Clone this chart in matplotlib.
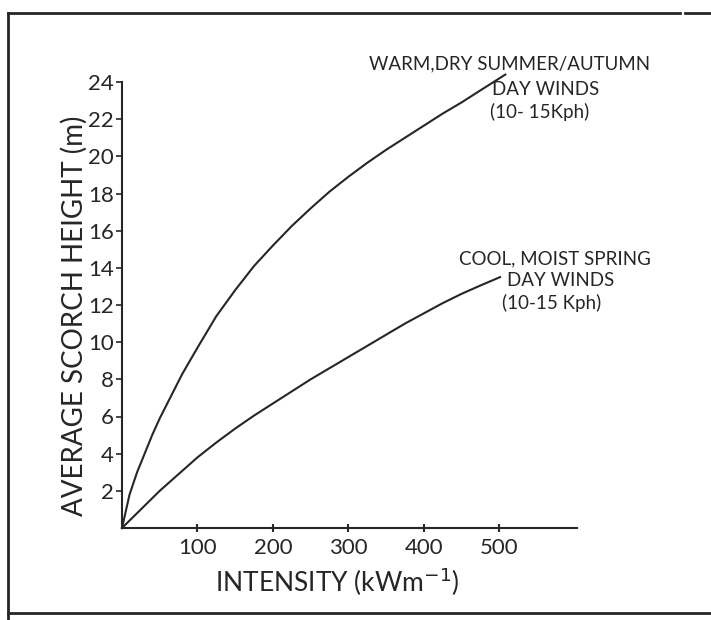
import numpy as np
import matplotlib.pyplot as plt
from matplotlib.lines import Line2D

# Scorch height vs fire intensity
warm_x = [0, 10, 20, 30, 40, 50, 60, 70, 80, 90, 100, 125, 150, 175, 200, 225,
          250, 275, 300, 325, 350, 375, 400, 425, 450, 475, 508]
warm_y = [0, 1.8, 3.0, 4.0, 5.0, 5.9, 6.7, 7.5, 8.3, 9.0, 9.7, 11.4, 12.8, 14.1,
          15.2, 16.25, 17.2, 18.1, 18.9, 19.65, 20.35, 21.0, 21.65, 22.3, 22.9, 23.55, 24.4]

cool_x = [0, 25, 50, 75, 100, 125, 150, 175, 200, 225, 250, 275, 300, 325, 350,
          375, 400, 425, 450, 475, 501]
cool_y = [0, 1.0, 2.0, 2.9, 3.8, 4.6, 5.35, 6.05, 6.7, 7.35, 8.0, 8.6, 9.2, 9.8,
          10.4, 11.0, 11.55, 12.1, 12.6, 13.05, 13.5]

x_ticks = [100, 200, 300, 400, 500]
y_ticks = list(range(2, 26, 2))

plt.rcParams['font.family'] = ['Lato', 'DejaVu Sans']
ink = '#262626'

fig = plt.figure(figsize=(7.11, 6.2), dpi=100)
ax = fig.add_axes([122/711, 1 - 528/620, (577 - 122)/711, (528 - 82)/620])

ax.plot(warm_x, warm_y, color=ink, lw=1.5, clip_on=False)
ax.plot(cool_x, cool_y, color=ink, lw=1.5, clip_on=False)

ax.set_xlim(0, 603)
ax.set_ylim(0, 24)
ax.set_xticks(x_ticks)
ax.set_yticks(y_ticks)
ax.tick_params(axis='y', direction='out', length=4, width=1.2, color=ink,
               labelsize=16, labelcolor=ink, pad=2)
ax.tick_params(axis='x', direction='inout', length=6, width=1.5, color=ink,
               labelsize=16, labelcolor=ink, pad=4)
for side in ['top', 'right']:
    ax.spines[side].set_visible(False)
for side in ['left', 'bottom']:
    ax.spines[side].set_color(ink)
    ax.spines[side].set_linewidth(1.5)

fig.text(74/711, 1 - 316/620, 'AVERAGE SCORCH HEIGHT (m)', rotation=90,
         ha='center', va='center', fontsize=20, color=ink)
fig.text(337/711, 1 - 582/620, 'INTENSITY (kWm$^{\\mathsf{-1}}$)',
         ha='center', va='center', fontsize=19, color=ink)

# curve labels
lab = dict(ha='center', va='center', fontsize=13.5, color=ink, clip_on=False)
ax.text(513, 25.0, 'WARM,DRY SUMMER/AUTUMN', **lab)
ax.text(561, 23.6, 'DAY WINDS', **lab)
ax.text(554, 22.4, '(10- 15Kph)', **lab)

ax.text(574, 14.5, 'COOL, MOIST SPRING', **lab)
ax.text(581, 13.3, 'DAY WINDS', **lab)
ax.text(569, 12.1, '(10-15 Kph)', **lab)

# page frame from the scan
top = 1 - 13/620
fig.add_artist(Line2D([8/711, 8/711], [0, top], color=ink, lw=2))
fig.add_artist(Line2D([8/711, 680/711], [top, top], color=ink, lw=2))
fig.add_artist(Line2D([685/711, 1], [top, top], color=ink, lw=2))
fig.add_artist(Line2D([8/711, 1], [1 - 613/620, 1 - 613/620], color=ink, lw=2))

fig.savefig('out.png', dpi=100)
